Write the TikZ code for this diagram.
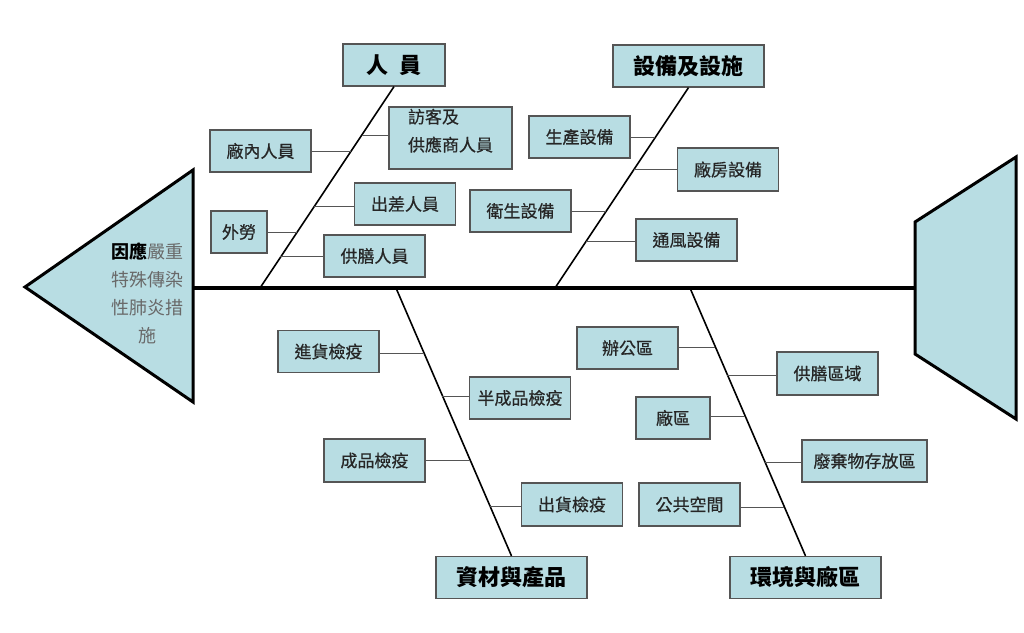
\documentclass[tikz,border=0pt]{standalone}
\usepackage{fontspec}
\setmainfont{Noto Sans CJK TC}
\newfontfamily\medio{Noto Sans CJK TC}[FakeBold=0.6]
\definecolor{azzurro}{RGB}{184,221,227}
\definecolor{bordo}{RGB}{85,85,85}
\definecolor{grigio}{RGB}{105,105,105}
\tikzset{
  box/.style={draw=bordo, line width=1.2pt, fill=azzurro, minimum width=101pt,
    minimum height=42pt, inner sep=0pt, font=\medio\fontsize{17}{28}\selectfont, text=black!85},
  titolo/.style={box, minimum width=151pt, font=\fontsize{22}{26}\selectfont\bfseries, text=black},
  ramo/.style={line width=1.6pt},
  rametto/.style={draw=bordo, line width=1pt},
}

\begin{document}
\begin{tikzpicture}[x=1pt,y=-1pt]
		\useasboundingbox (0,0) rectangle (1024,632);
		% testa
		\draw[line width=3pt, fill=azzurro] (25,287) -- (193,170) -- (193,402) -- cycle;
		\node[align=center, text=grigio, font=\fontsize{18}{28}\selectfont] (effetto) at (147,293)
			{{\color{black}\bfseries 因應}嚴重\\特殊傳染\\性肺炎措\\施};
		% coda
		\draw[line width=3pt, fill=azzurro] (915,222) -- (1016,157) -- (1016,419) -- (915,354) -- cycle;
		% spina
		\coordinate (testa) at (193,288);
		\coordinate (coda) at (915,288);
		\draw[line width=4pt] (testa) -- (coda);

		% persone
		\node[titolo, minimum width=102pt] (persone) at (394,65) {人\hspace{12pt}員};
		\coordinate (s1) at (260,288);
		\draw[ramo] (persone.south) -- (s1);
		\node[box] (interni) at (260.5,151) {廠內人員};
		\node[box, minimum width=123pt, minimum height=62pt, align=left] (visitatori) at (450.5,138) {訪客及\\供應商人員\\[-12pt]\mbox{}};
		\node[box] (trasferta) at (405,204) {出差人員};
		\node[box, minimum width=56pt] (esterni) at (239,232) {外勞};
		\node[box] (mensa) at (374.5,256) {供膳人員};
		\coordinate (p1) at (350.9,151);
		\coordinate (p2) at (361.5,135);
		\coordinate (p3) at (314.4,206);
		\coordinate (p4) at (297.1,232);
		\coordinate (p5) at (279.9,256);
		\draw[rametto] (p1) -- (p1 -| interni.east);
		\draw[rametto] (p2) -- (p2 -| visitatori.west);
		\draw[rametto] (p3) -- (p3 -| trasferta.west);
		\draw[rametto] (p4) -- (p4 -| esterni.east);
		\draw[rametto] (p5) -- (p5 -| mensa.west);

		% impianti
		\node[titolo] (impianti) at (688.5,66) {設備及設施};
		\coordinate (s2) at (555,288);
		\draw[ramo] (impianti.south) -- (s2);
		\node[box] (produzione) at (579.5,137) {生產設備};
		\node[box, minimum height=43pt] (fabbrica) at (728,169.5) {廠房設備};
		\node[box] (igiene) at (520.5,211) {衛生設備};
		\node[box] (ventilazione) at (686.5,240) {通風設備};
		\coordinate (q1) at (654.9,137);
		\coordinate (q2) at (633.7,169);
		\coordinate (q3) at (606,211);
		\coordinate (q4) at (586.1,241);
		\draw[rametto] (q1) -- (q1 -| produzione.east);
		\draw[rametto] (q2) -- (q2 -| fabbrica.west);
		\draw[rametto] (q3) -- (q3 -| igiene.east);
		\draw[rametto] (q4) -- (q4 -| ventilazione.west);

		% materiali
		\node[titolo] (materiali) at (511.5,577.5) {資材與產品};
		\coordinate (s3) at (396,288);
		\draw[ramo] (s3) -- (materiali.north);
		\node[box] (arrivi) at (328.5,351.5) {進貨檢疫};
		\node[box] (semilavorati) at (520,398) {半成品檢疫};
		\node[box, minimum height=43pt] (finiti) at (374.5,460.5) {成品檢疫};
		\node[box, minimum height=43pt] (spedizioni) at (572,504.5) {出貨檢疫};
		\coordinate (m1) at (423.8,353);
		\coordinate (m2) at (442.2,396);
		\coordinate (m3) at (469.5,460);
		\coordinate (m4) at (489.2,506);
		\draw[rametto] (m1) -- (m1 -| arrivi.east);
		\draw[rametto] (m2) -- (m2 -| semilavorati.west);
		\draw[rametto] (m3) -- (m3 -| finiti.east);
		\draw[rametto] (m4) -- (m4 -| spedizioni.west);

		% ambiente
		\node[titolo] (ambiente) at (805.5,577.5) {環境與廠區};
		\coordinate (s4) at (690,288);
		\draw[ramo] (s4) -- (ambiente.north);
		\node[box] (uffici) at (627.5,348) {辦公區};
		\node[box, minimum height=43pt] (refettorio) at (827.5,373.5) {供膳區域};
		\node[box, minimum width=74pt] (stabilimento) at (673,418) {廠區};
		\node[box, minimum width=125pt] (rifiuti) at (864.5,461) {廢棄物存放區};
		\node[box, minimum height=43pt] (comuni) at (689.5,504.5) {公共空間};
		\coordinate (a1) at (715.2,347);
		\coordinate (a2) at (727.2,375);
		\coordinate (a3) at (744.7,416);
		\coordinate (a4) at (764.4,462);
		\coordinate (a5) at (783.6,507);
		\draw[rametto] (a1) -- (a1 -| uffici.east);
		\draw[rametto] (a2) -- (a2 -| refettorio.west);
		\draw[rametto] (a3) -- (a3 -| stabilimento.east);
		\draw[rametto] (a4) -- (a4 -| rifiuti.west);
		\draw[rametto] (a5) -- (a5 -| comuni.east);
	\end{tikzpicture}
\end{document}
